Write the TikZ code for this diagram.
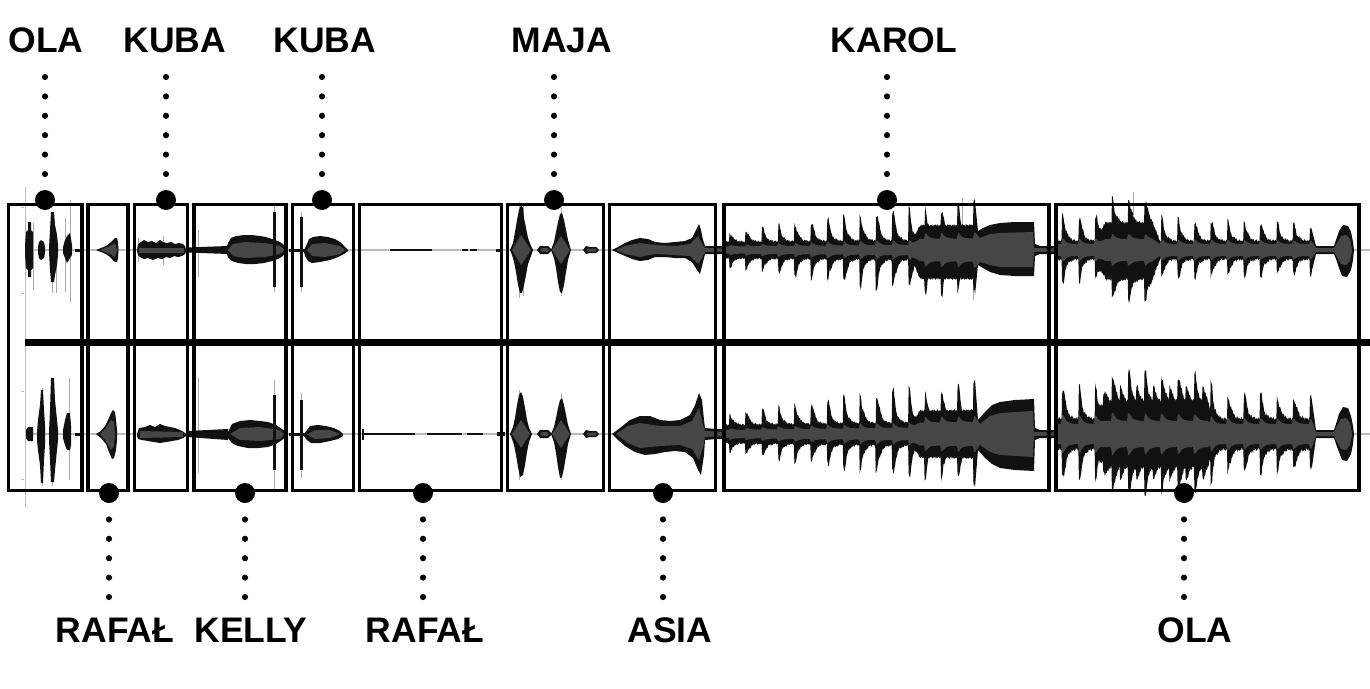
\documentclass[tikz,border=0pt]{standalone}
\usepackage{fontspec}
\setmainfont{Liberation Sans}
\definecolor{wfblack}{HTML}{111111}
\definecolor{wfgray}{HTML}{464646}
\definecolor{wfspike}{HTML}{ABABAB}
\definecolor{wfaxis}{HTML}{BBBBBB}
\begin{document}
\begin{tikzpicture}[x=1pt,y=-1pt,
  declare function={
    rmp(\x,\y,\z)=max(0,min(1,(\x-\y)/(\z-\y)));
    win(\x,\y,\z)=max(0,min(1,(\x-\y)/8,(\z-\x)/8));
    nz(\x)=0.6*sin(211*mod(\x,17))+0.4*sin(97*mod(\x,13));
    md(\x)=0.86+0.14*sin(47*mod(\x,29));
    sk(\x)=exp(-max(0,mod(\x-566,16.3)-1.6)/3);
    so(\x)=exp(-max(0,mod(\x-897,16.5)-1.6)/3);
    kh(\x)=10+22*rmp(\x,726,880)+8*rmp(\x,880,975);
    ktu(\x)=8+2*rmp(\x,726,975)+max(15*win(\x,912,983),kh(\x)*sk(\x)*md(\x))+1.2*nz(\x);
    ktl(\x)=8+2*rmp(\x,726,975)+max(19*win(\x,912,983),kh(\x)*sk(\x)*md(\x+11))+1.2*nz(\x+5);
    kc(\x)=3.5+2*rmp(\x,726,975)+6*win(\x,912,983)+0.15*kh(\x)*sk(\x);
    kbu(\x)=9+3*rmp(\x,726,975)+max(12*win(\x,912,983),(kh(\x)+2)*sk(\x)*md(\x+7))+1.2*nz(\x+3);
    kbl(\x)=9+3*rmp(\x,726,975)+max(12*win(\x,912,983),kh(\x)*sk(\x)*md(\x+13))+1.2*nz(\x+8);
    kcb(\x)=4+3*rmp(\x,726,975)+5*win(\x,912,983)+0.15*kh(\x)*sk(\x);
    otu(\x)=9+18*win(\x,1098,1160)+(30-12*rmp(\x,1058,1312))*so(\x)*md(\x)+1.6*nz(\x);
    otl(\x)=9+20*win(\x,1098,1160)+(25-8*rmp(\x,1058,1312))*so(\x)*md(\x+11)+1.6*nz(\x+7);
    oc(\x)=6+5*win(\x,1098,1160)+0.2*(26-10*rmp(\x,1058,1312))*so(\x);
    obu(\x)=15+16*win(\x,1098,1215)+(36-12*rmp(\x,1058,1312))*so(\x)*md(\x+3)+14*win(\x,1098,1215)*so(\x+8.25)+2*nz(\x+2);
    obl(\x)=15+16*win(\x,1098,1215)+(34-10*rmp(\x,1058,1312))*so(\x)*md(\x+17)+12*win(\x,1098,1215)*so(\x+8.25)+2*nz(\x+9);
    obc(\x)=10+3*win(\x,1098,1215)+0.25*(36-18*rmp(\x,1058,1312))*so(\x);
  },
  lab/.style={font=\fontsize{35.5}{40}\selectfont\bfseries, anchor=base, inner sep=0pt},
  bigdot/.style={circle, fill=black, minimum size=20pt, inner sep=0pt},
  dotline/.style={line width=6.2pt, line cap=round, dash pattern=on 0pt off 19.4pt},
  frame/.style={draw=black, line width=3.8pt},
  wb/.style={fill=wfblack},
  wg/.style={fill=wfgray},
  sp/.style={draw=wfspike, line width=0.9pt},
]
\fill[white] (0,0) rectangle (1370,688);
\useasboundingbox (0,0) rectangle (1370,688);

% axes
\draw[wfaxis, line width=1.1pt] (25,250) -- (1370,250);
\draw[wfaxis, line width=1.1pt] (25,434) -- (1370,434);
\draw[wfaxis, line width=1pt] (25,187) -- (25,507);
\foreach \yy in {207,293,391,479} \draw[wfaxis, line width=1pt] (21,\yy) -- (24,\yy);

% ===== segment 1 (OLA) =====
\draw[sp] (33,223) -- (33,290);
\draw[sp] (52,212) -- (52,293);
\draw[sp] (56,245) -- (56,293);
\draw[sp] (65,218) -- (65,292);
\draw[sp] (70,200) -- (70,302);
\fill[wb] (25,246) -- (26,232) -- (28,230) -- (28,222) -- (31,222) -- (31,230) -- (33,232) -- (33,268) -- (31,270) -- (31,277) -- (28,277) -- (28,270) -- (26,268) -- (25,254) -- cycle;
\fill[wb] (38,247) -- (39,242) -- (41,240) -- (44,242) -- (45,247) -- (45,253) -- (44,258) -- (41,260) -- (39,258) -- (38,253) -- cycle;
\fill[wb] (49,248) -- (50,230) -- (51,212) -- (54,212) -- (55,225) -- (57,235) -- (58,245) -- (58,255) -- (57,265) -- (55,275) -- (54,282) -- (51,282) -- (50,270) -- (49,252) -- cycle;
\fill[wb] (63,247) -- (65,240) -- (67,236) -- (70,233) -- (72,245) -- (72,255) -- (70,258) -- (67,263) -- (65,258) -- (63,253) -- cycle;
\fill[wb] (75,248.5) rectangle (80,251.5);
% bottom
\draw[sp] (42,388) -- (42,486);
\draw[sp] (52,378) -- (52,486);
\draw[sp] (69,378) -- (69,480);
\fill[wb] (26,430) -- (28,427) -- (33,427) -- (33,441) -- (28,441) -- (26,438) -- cycle;
\fill[wb] (37,432) -- (38,420) -- (40,405) -- (41,390) -- (43,390) -- (44,410) -- (45,425) -- (45,445) -- (44,460) -- (43,483) -- (41,483) -- (40,465) -- (38,450) -- (37,440) -- cycle;
\fill[wb] (49,432) -- (50,410) -- (51,378) -- (54,378) -- (55,400) -- (57,420) -- (58,430) -- (58,440) -- (57,450) -- (55,470) -- (54,482) -- (51,482) -- (50,460) -- (49,440) -- cycle;
\fill[wb] (63,430) -- (65,420) -- (67,413) -- (70,413) -- (71,425) -- (71,445) -- (70,450) -- (67,450) -- (65,445) -- (63,438) -- cycle;
\fill[wb] (75,432.5) rectangle (80,435.5);

% ===== segment 2 (RAFAL) =====
\fill[wb] (96,250) -- (101,248) -- (106,246) -- (110,243) -- (113,240) -- (115,238) -- (117,238) -- (118,242) -- (118.5,250) -- (118,258) -- (117,262) -- (115,262) -- (113,260) -- (110,257) -- (106,254) -- (101,252) -- cycle;
\fill[wg] (100,250) -- (110,246) -- (115,243) -- (117,250) -- (115,257) -- (110,254) -- cycle;
\fill[wb] (96,434) -- (101,431) -- (105,426) -- (108,420) -- (111,413) -- (113,410) -- (115,412) -- (116,420) -- (117,430) -- (117,440) -- (116,450) -- (114,458) -- (112,459) -- (109,452) -- (106,444) -- (101,438) -- cycle;
\fill[wg] (100,434) -- (106,428) -- (111,420) -- (114,422) -- (115,434) -- (114,446) -- (111,450) -- (106,441) -- cycle;

% ===== segment 3 (KUBA) =====
\draw[sp] (138,238) -- (138,262);
\draw[sp] (163,236) -- (163,265);
\fill[wb] (137,250) -- (138,244) -- (141,242) -- (144,240) -- (148,242) -- (152,241) -- (156,243) -- (160,240) -- (163,242) -- (167,243) -- (171,242) -- (175,244) -- (179,243) -- (183,244) -- (185,246) -- (186,250) -- (186,252) -- (185,254) -- (182,256) -- (178,257) -- (174,256) -- (170,258) -- (166,257) -- (162,259) -- (158,258) -- (153,260) -- (148,258) -- (144,259) -- (140,257) -- (138,255) -- (137,251) -- cycle;
\fill[wg] (139,247.5) rectangle (184,252.5);
\fill[wb] (137,434) -- (139,428) -- (145,427) -- (150,425) -- (155,427) -- (160,424) -- (165,426) -- (170,427) -- (175,428) -- (180,430) -- (184,432) -- (186,434) -- (186,436) -- (183,438) -- (178,440) -- (172,441) -- (166,442) -- (160,443) -- (154,442) -- (148,441) -- (142,440) -- (138,439) -- (137,436) -- cycle;
\fill[wg] (140,431) -- (183,432) -- (183,437) -- (140,438) -- cycle;

% ===== segment 4 (KELLY) =====
\draw[sp] (198,230) -- (198,277);
\draw[sp] (198,378) -- (198,473);
\draw[sp] (274.5,205) -- (274.5,292);
\draw[sp] (274.5,380) -- (274.5,490);
\fill[wb] (187,247.5) -- (228,246) -- (228,254) -- (187,252.5) -- cycle;
\fill[wb] (226,250) -- (228,243) -- (231,238) -- (236,236) -- (244,235) -- (252,235) -- (260,236) -- (266,237) -- (272,239) -- (278,241) -- (283,244) -- (286,248) -- (286,252) -- (283,256) -- (278,259) -- (272,261) -- (264,263) -- (255,264) -- (246,264) -- (238,263) -- (232,261) -- (228,257) -- (226,252) -- cycle;
\fill[wg] (228,250) -- (233,244) -- (245,242) -- (265,243) -- (280,246) -- (285,250) -- (280,254) -- (265,257) -- (245,258) -- (233,256) -- cycle;
\fill[wb] (273,212) rectangle (275.5,287);
\fill[wb] (187,431) -- (228,429) -- (228,440) -- (187,437) -- cycle;
\fill[wb] (228,432) -- (232,424) -- (240,421) -- (250,420) -- (260,421) -- (268,422) -- (276,425) -- (282,429) -- (286,432) -- (286,437) -- (282,440) -- (276,444) -- (268,447) -- (258,448) -- (248,448) -- (238,446) -- (232,443) -- (228,438) -- cycle;
\fill[wg] (230,434) -- (240,428) -- (260,427) -- (280,430) -- (284,434) -- (280,439) -- (260,441) -- (240,440) -- cycle;
\fill[wb] (273,395) rectangle (275.5,470);

% ===== segment 5 (KUBA) =====
\draw[sp] (301.2,212) -- (301.2,292);
\draw[sp] (301.2,393) -- (301.2,478);
\fill[wb] (289,248.5) rectangle (304,251.5);
\fill[wb] (300,217) rectangle (302.5,287);
\fill[wb] (304,250) -- (307,244) -- (309,239) -- (313,237) -- (320,236) -- (328,237) -- (335,239) -- (340,242) -- (344,246) -- (348,250) -- (348,251) -- (344,254) -- (338,257) -- (330,260) -- (320,262) -- (312,263) -- (308,261) -- (305,256) -- (304,252) -- cycle;
\fill[wg] (307,250) -- (312,244) -- (325,243) -- (340,246) -- (345,250) -- (340,254) -- (325,257) -- (312,256) -- cycle;
\fill[wb] (289,432.5) rectangle (304,435.5);
\fill[wb] (300,400) rectangle (302.5,470);
\fill[wb] (304,434) -- (307,430) -- (310,426) -- (318,425) -- (326,426) -- (334,428) -- (340,431) -- (343,434) -- (343,436) -- (338,439) -- (330,441) -- (320,443) -- (311,443) -- (307,440) -- (304,436) -- cycle;
\fill[wg] (307,434.5) -- (315,430) -- (330,430) -- (340,434) -- (330,438) -- (315,439) -- cycle;

% ===== segment 6 (RAFAL) =====
\fill[wb] (390,248.8) rectangle (432,251.4);
\fill[wb] (462,249.2) rectangle (468,250.9);
\fill[wb] (470,249) rectangle (477,251);
\fill[wb] (496,248.5) rectangle (503,251.5);
\fill[wb] (362,429) rectangle (363.5,440);
\fill[wb] (363,432.8) rectangle (415,435.4);
\fill[wb] (427,432.8) rectangle (462,435.4);
\fill[wb] (467,433.2) rectangle (483,435.2);
\fill[wb] (497,432) rectangle (505,436);

% ===== segment 7 (MAJA) =====
\draw[sp] (519,202) -- (519,298);
\draw[sp] (523,205) -- (523,296);
\draw[sp] (561,208) -- (561,296);
\draw[sp] (519,390) -- (519,480);
\draw[sp] (561,394) -- (561,480);
\fill[wb] (510,250) -- (513,243) -- (515,232) -- (517,220) -- (519,210) -- (521,205) -- (523,208) -- (524,218) -- (526,228) -- (528,238) -- (531,246) -- (533,250) -- (531,256) -- (528,264) -- (526,275) -- (524,285) -- (522,293) -- (520,293) -- (518,285) -- (516,272) -- (514,262) -- (512,255) -- cycle;
\fill[wg] (512,250) -- (521,235) -- (531,250) -- (521,265) -- cycle;
\fill[wb] (551,250) -- (554,242) -- (556,232) -- (558,222) -- (560,214) -- (562,213) -- (564,220) -- (566,230) -- (568,240) -- (571,250) -- (568,260) -- (566,272) -- (564,285) -- (562,293) -- (560,292) -- (558,282) -- (556,268) -- (554,258) -- cycle;
\fill[wg] (552,250) -- (561,236) -- (570,250) -- (561,264) -- cycle;
\fill[wb] (537,250) -- (540,246) -- (548,246) -- (552,250) -- (548,254) -- (540,254) -- cycle;
\fill[wg] (540,250) -- (542,248) -- (547,248) -- (549,250) -- (547,252) -- (542,252) -- cycle;
\fill[wb] (583,250) -- (586,246) -- (590,247) -- (596,247) -- (599,250) -- (596,253) -- (590,253) -- (586,254) -- cycle;
\fill[wg] (586,250) -- (588,248.5) -- (595,248.5) -- (597,250) -- (595,251.5) -- (588,251.5) -- cycle;
\fill[wb] (510,434) -- (513,427) -- (515,418) -- (517,405) -- (519,395) -- (521,392) -- (523,397) -- (525,408) -- (527,420) -- (529,428) -- (532,434) -- (529,442) -- (527,452) -- (525,465) -- (523,475) -- (520,477) -- (518,467) -- (516,455) -- (514,445) -- (512,439) -- cycle;
\fill[wg] (512,434) -- (521,420) -- (530,434) -- (521,448) -- cycle;
\fill[wb] (551,434) -- (554,427) -- (556,418) -- (558,408) -- (560,400) -- (562,398) -- (564,405) -- (566,415) -- (568,425) -- (571,434) -- (568,444) -- (566,456) -- (564,468) -- (562,477) -- (560,478) -- (558,467) -- (556,453) -- (554,442) -- cycle;
\fill[wg] (552,434) -- (561,420) -- (570,434) -- (561,448) -- cycle;
\fill[wb] (537,434) -- (540,430) -- (548,430) -- (552,434) -- (548,438) -- (540,438) -- cycle;
\fill[wg] (540,434) -- (542,432) -- (547,432) -- (549,434) -- (547,436) -- (542,436) -- cycle;
\fill[wb] (583,434) -- (586,430) -- (590,431) -- (596,431) -- (599,434) -- (596,437) -- (590,437) -- (586,438) -- cycle;
\fill[wg] (586,434) -- (588,432.5) -- (595,432.5) -- (597,434) -- (595,435.5) -- (588,435.5) -- cycle;

% ===== segment 8 (ASIA) =====
\fill[wb] (612,250) -- (618,247) -- (625,243) -- (632,240) -- (640,238) -- (648,239) -- (655,242) -- (665,243) -- (675,242) -- (685,241) -- (692,238) -- (696,230) -- (699,224) -- (701,230) -- (703,240) -- (705,246) -- (716,246) -- (726,246) -- (726,254) -- (716,254) -- (705,254) -- (703,262) -- (700,274) -- (697,270) -- (692,262) -- (685,258) -- (675,258) -- (665,257) -- (655,257) -- (648,260) -- (640,261) -- (632,259) -- (625,256) -- (618,253) -- cycle;
\fill[wg] (616,250) -- (625,246) -- (640,243) -- (655,245) -- (675,246) -- (690,244) -- (698,236) -- (702,244) -- (705,248) -- (726,248.5) -- (726,251.5) -- (705,252) -- (702,258) -- (698,264) -- (690,256) -- (675,255) -- (655,254) -- (640,257) -- (625,254) -- cycle;
\fill[wb] (612,434) -- (620,428) -- (630,420) -- (640,416) -- (650,416) -- (660,420) -- (670,421) -- (680,420) -- (690,415) -- (695,405) -- (699,393) -- (702,400) -- (704,420) -- (705,428) -- (716,429) -- (726,429) -- (726,439) -- (716,439) -- (705,440) -- (704,455) -- (701,475) -- (698,470) -- (693,458) -- (685,452) -- (675,451) -- (665,452) -- (655,454) -- (645,455) -- (635,452) -- (625,446) -- (618,440) -- cycle;
\fill[wg] (616,434) -- (628,426) -- (640,423) -- (660,426) -- (680,426) -- (692,421) -- (699,408) -- (703,425) -- (705,431) -- (726,432) -- (726,436) -- (705,437) -- (703,447) -- (699,460) -- (692,449) -- (680,445) -- (660,446) -- (640,448) -- (628,443) -- cycle;

% ===== segment 9 (KAROL) =====
\draw[sp] (962,198) -- (962,225);
\draw[sp] (973,280) -- (973,300);
\draw[sp] (973,388) -- (973,485);
\fill[wb] plot[domain=726:975,samples=500] (\x,{250-ktu(\x)}) -- (978,231) -- (983,228) -- (990,225) -- (1000,223) -- (1015,222) -- (1034,222) -- (1035,244) -- (1040,246) -- (1058,246) -- (1058,254) -- (1040,254) -- (1035,256) -- (1034,276) -- (1015,276) -- (1000,275) -- (990,272) -- (983,268) -- (978,265) -- plot[domain=975:726,samples=500] (\x,{250+ktl(\x)}) -- cycle;
\fill[wg] plot[domain=726:975,samples=250] (\x,{250-kc(\x)}) -- (980,238) -- (990,234) -- (1000,233) -- (1033,232) -- (1034,248) -- (1058,248.5) -- (1058,251.5) -- (1034,252) -- (1033,267) -- (1000,267) -- (990,265) -- (980,262) -- plot[domain=975:726,samples=250] (\x,{250+kc(\x)}) -- cycle;
\fill[wb] plot[domain=726:975,samples=500] (\x,{434-kbu(\x)}) -- (978,420) -- (985,412) -- (992,405) -- (1000,402) -- (1015,400) -- (1034,399) -- (1035,428) -- (1040,430) -- (1058,430) -- (1058,438) -- (1040,438) -- (1035,440) -- (1034,471) -- (1015,470) -- (1000,468) -- (992,464) -- (985,458) -- (978,450) -- plot[domain=975:726,samples=500] (\x,{434+kbl(\x)}) -- cycle;
\fill[wg] plot[domain=726:975,samples=250] (\x,{434-kcb(\x)}) -- (980,424) -- (990,416) -- (1000,413) -- (1033,411) -- (1034,432) -- (1058,432.5) -- (1058,435.5) -- (1034,436) -- (1033,457) -- (1000,455) -- (990,452) -- (980,445) -- plot[domain=975:726,samples=250] (\x,{434+kcb(\x)}) -- cycle;

% ===== segment 10 (OLA) =====
\draw[sp] (1133,192) -- (1133,215);
\draw[sp] (1146,290) -- (1146,300);
\draw[sp] (1112,378) -- (1112,390);
\draw[sp] (1146,478) -- (1146,490);
\fill[wb] plot[domain=1058:1312,samples=500] (\x,{250-otu(\x)}) -- (1316,246) -- (1334,246) -- (1336,240) -- (1339,231) -- (1343,225) -- (1348,226) -- (1351,232) -- (1353,242) -- (1354,250) -- (1353,260) -- (1351,270) -- (1347,277) -- (1342,276) -- (1339,268) -- (1336,259) -- (1334,254) -- (1316,254) -- plot[domain=1312:1058,samples=500] (\x,{250+otl(\x)}) -- cycle;
\fill[wg] plot[domain=1058:1312,samples=255] (\x,{250-oc(\x)}) -- (1316,248) -- (1334,248) -- (1337,243) -- (1341,236) -- (1346,235) -- (1350,239) -- (1352,250) -- (1350,261) -- (1346,265) -- (1341,264) -- (1337,257) -- (1334,252) -- (1316,252) -- plot[domain=1312:1058,samples=255] (\x,{250+oc(\x)}) -- cycle;
\fill[wb] plot[domain=1058:1312,samples=500] (\x,{434-obu(\x)}) -- (1316,430) -- (1334,430) -- (1336,424) -- (1339,414) -- (1343,407) -- (1348,408) -- (1351,416) -- (1353,426) -- (1354,434) -- (1353,444) -- (1351,454) -- (1347,461) -- (1342,460) -- (1339,452) -- (1336,444) -- (1334,438) -- (1316,438) -- plot[domain=1312:1058,samples=500] (\x,{434+obl(\x)}) -- cycle;
\fill[wg] plot[domain=1058:1312,samples=255] (\x,{434-obc(\x)}) -- (1316,432) -- (1334,432) -- (1337,426) -- (1341,419) -- (1346,418) -- (1350,423) -- (1352,434) -- (1350,445) -- (1346,450) -- (1341,449) -- (1337,442) -- (1334,436) -- (1316,436) -- plot[domain=1312:1058,samples=255] (\x,{434+obc(\x)}) -- cycle;

% divider
\draw[black, line width=7pt] (25,342.5) -- (1370,342.5);

% frames
\foreach \xa/\xb in {8.5/82, 88/128, 134.5/187.5, 194/286, 292.5/353.5, 359.5/501.5, 507.5/603.5, 609.5/715.5, 724/1049, 1056/1359}
  \draw[frame] (\xa,204.5) rectangle (\xb,490.5);

% top markers
\node[bigdot] (d1) at (45,200) {};
\node[bigdot] (d2) at (166,200) {};
\node[bigdot] (d3) at (322,200) {};
\node[bigdot] (d4) at (554,200) {};
\node[bigdot] (d5) at (887,200) {};
% bottom markers
\node[bigdot] (e1) at (109,493) {};
\node[bigdot] (e2) at (245,493) {};
\node[bigdot] (e3) at (423,493) {};
\node[bigdot] (e4) at (663,493) {};
\node[bigdot] (e5) at (1184,493) {};

% labels
\node[lab] (t1) at (46,52) {OLA};
\node[lab] (t2) at (175,52) {KUBA};
\node[lab] (t3) at (325,52) {KUBA};
\node[lab] (t4) at (562,52) {MAJA};
\node[lab] (t5) at (894,52) {KAROL};
\node[lab] (b1) at (115,642) {RAFAŁ};
\node[lab] (b2) at (251,642) {KELLY};
\node[lab] (b3) at (425,642) {RAFAŁ};
\node[lab] (b4) at (670,642) {ASIA};
\node[lab] (b5) at (1195,642) {OLA};

% dotted leaders
\coordinate (c1) at (45,77);
\coordinate (c2) at (166,77);
\coordinate (c3) at (322,77);
\coordinate (c4) at (554,77);
\coordinate (c5) at (887,77);
\coordinate (f1) at (109,597);
\coordinate (f2) at (245,597);
\coordinate (f3) at (423,597);
\coordinate (f4) at (663,597);
\coordinate (f5) at (1184,597);
\foreach \s/\t in {c1/d1, c2/d2, c3/d3, c4/d4, c5/d5, f1/e1, f2/e2, f3/e3, f4/e4, f5/e5}
  \draw[dotline] (\s) -- (\t);
\end{tikzpicture}
\end{document}
